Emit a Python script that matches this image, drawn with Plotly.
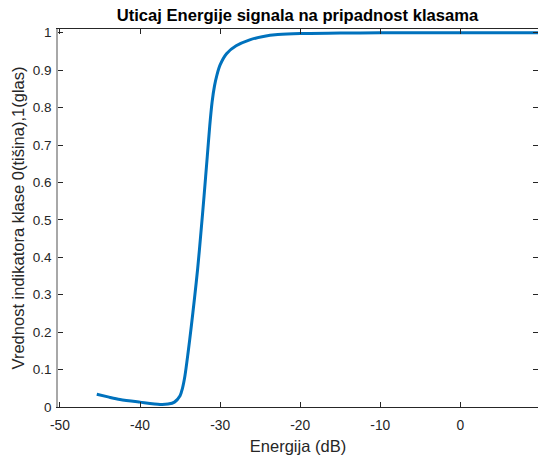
import plotly.graph_objects as go

# Energy (dB) and the class-indicator value (0 = tišina, 1 = glas)
energy_db = [-45.4, -44.0, -42.5, -40.0, -37.5, -36.5, -35.7, -35.0, -34.7, -34.4,
             -34.0, -33.6, -33.2, -32.8, -32.4, -32.0, -31.6, -31.3, -31.0, -30.7,
             -30.4, -30.0, -29.2, -28.0, -26.3, -24.6, -22.8, -20.0, -15.0, -10.0,
             -5.0, 0.0, 5.0, 9.8]
indicator = [0.034, 0.027, 0.020, 0.013, 0.007, 0.008, 0.013, 0.030, 0.050, 0.082,
             0.145, 0.215, 0.290, 0.370, 0.465, 0.565, 0.670, 0.750, 0.815, 0.858,
             0.887, 0.914, 0.944, 0.965, 0.981, 0.990, 0.995, 0.998, 0.999, 1.0,
             1.0, 1.0, 1.0, 1.0]

x_ticks = [-50, -40, -30, -20, -10, 0]
x_tick_text = ["-50", "-40", "-30", "-20", "-10", "0"]
y_ticks = [0, 0.1, 0.2, 0.3, 0.4, 0.5, 0.6, 0.7, 0.8, 0.9, 1]
y_tick_text = ["0", "0.1", "0.2", "0.3", "0.4", "0.5", "0.6", "0.7", "0.8", "0.9", "1"]

ink = "#262626"
family = "Liberation Sans, Arial, sans-serif"

fig = go.Figure()
fig.add_trace(go.Scatter(
    x=energy_db, y=indicator, mode="lines",
    line=dict(color="#0072BD", width=3, shape="spline", smoothing=0.8),
    showlegend=False, hoverinfo="skip",
))

y_range = [0, 1.01]
x_range = [-50.24, 9.69]

fig.update_layout(
    autosize=True,
    height=457,
    margin=dict(l=58, r=0, t=29, b=50),
    paper_bgcolor="white",
    plot_bgcolor="white",
    font=dict(family=family, size=13.5, color=ink),
    title=dict(
        text="<b>Uticaj Energije signala na pripadnost klasama</b>",
        x=0.553, xanchor="center", y=0.966, yanchor="middle",
        font=dict(family=family, size=16.6, color="black"),
    ),
    xaxis=dict(
        range=x_range, tickvals=x_ticks, ticktext=x_tick_text,
        ticks="inside", ticklen=5, ticklabelstandoff=5,
        tickcolor=ink, showgrid=False, zeroline=False,
        showline=True, linecolor=ink, linewidth=1, mirror="ticks",
        title=dict(text="Energija (dB)", font=dict(size=16.5, color=ink), standoff=8),
        tickfont=dict(size=13.8, color=ink),
    ),
    yaxis=dict(
        range=y_range, tickvals=y_ticks, ticktext=y_tick_text, ticks="inside",
        ticklen=5, tickcolor=ink, showgrid=False, zeroline=False,
        ticklabelstandoff=2,
        showline=True, linecolor="#a8a8a8", linewidth=1.5,
        title=dict(text="Vrednost indikatora klase 0(tišina),1(glas)",
                   font=dict(size=16.5, color=ink), standoff=4),
        tickfont=dict(size=13.5, color=ink),
    ),
    yaxis2=dict(
        range=y_range, tickvals=y_ticks, ticks="inside", ticklen=5,
        tickcolor=ink, showticklabels=False, showgrid=False, zeroline=False,
        showline=False, overlaying="y", side="right",
    ),
)

# invisible trace that carries the right-hand tick marks
fig.add_trace(go.Scatter(x=[energy_db[0]], y=[indicator[0]], yaxis="y2",
                         mode="markers", marker=dict(opacity=0),
                         showlegend=False, hoverinfo="skip"))

fig.write_html("out.html")
